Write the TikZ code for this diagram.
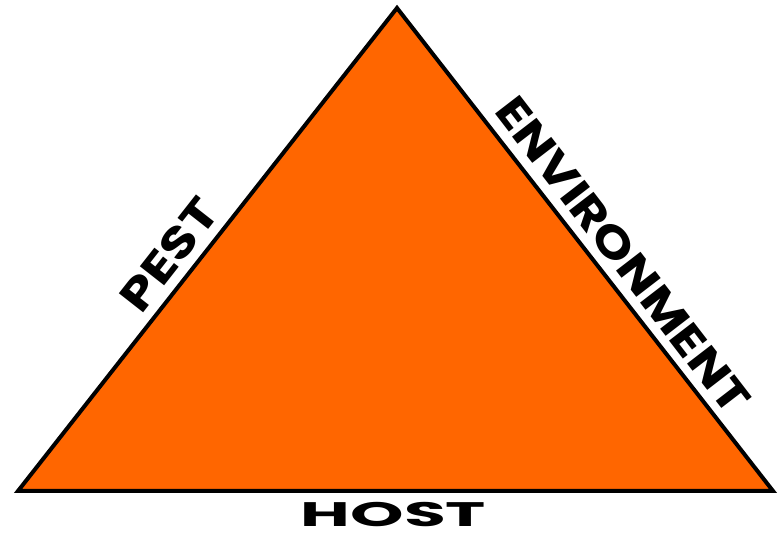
\documentclass[tikz,border=0pt]{standalone}
\usepackage{fontspec}
\setmainfont{Poppins}
\usetikzlibrary{calc}
\definecolor{trifill}{HTML}{FF6600}

\begin{document}
\begin{tikzpicture}[x=1pt,y=1pt]
\def\linecol{black}

\tikzset{every node/.style={font=\bfseries, inner sep=3pt, outer sep=0pt}}
\tikzset{sidelabel/.style={font=\fontsize{44}{44}\selectfont\bfseries, anchor=south, inner sep=11pt}}
\useasboundingbox (0,0) rectangle (782,538);
%%%%%% corners
\coordinate (apex) at (397,530);
\coordinate (left) at (18,47);
\coordinate (right) at (773,47);

%%%%%% triangle
\draw[draw=\linecol, line width=4pt, fill=trifill] (left) -- (apex) -- (right) -- cycle;

%%%%%% labels
\node(pest)at($(left)!.455!(apex)$)[sidelabel, rotate=51.9, xscale=1.25]{PEST};
\node(env)at($(apex)!.545!(right)$)[sidelabel, rotate=-52.4, xscale=1.2]{ENVIRONMENT};
\node(host)at($(left)!.5!(right)+(-2,-8)$)[anchor=north, font=\fontsize{34}{34}\selectfont\bfseries, xscale=2.0]{HOST};
\end{tikzpicture}
\end{document}
